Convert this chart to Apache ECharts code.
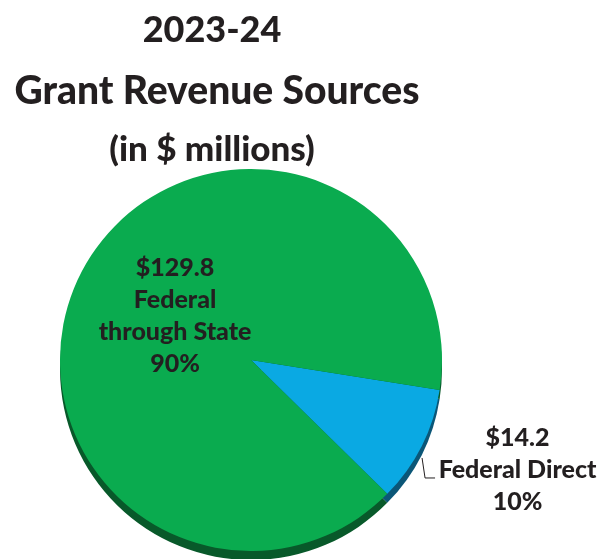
<!DOCTYPE html>
<html>
<head>
<meta charset="utf-8">
<script src="https://cdn.jsdelivr.net/npm/echarts@6/dist/echarts.min.js"></script>
<style>
  html, body { margin: 0; padding: 0; background: #ffffff; }
  #chart { width: 597px; height: 559px; }
</style>
</head>
<body>
<div id="chart"></div>
<script>
// Grant revenue by source, in $ millions
const categories = ['Federal Direct', 'Federal through State'];
const labelNames = ['Federal Direct', 'Federal\nthrough State'];
const amounts = [14.2, 129.8];

const titleLines = ['2023-24', 'Grant Revenue Sources', '(in $ millions)'];

const faceColors = ['#0aa9e3', '#0aab4f'];
const edgeColors = ['#0b5677', '#08592a'];

const FONT = 'Lato, "Open Sans", sans-serif';
const WEIGHT = 900;
const INK = '#231f20';

const chart = echarts.init(document.getElementById('chart'), null, { renderer: 'canvas' });

const pieData = categories.map((name, i) => ({ name, value: amounts[i] }));

function labelText(p) {
  return '$' + amounts[p.dataIndex].toFixed(1) + '\n' + labelNames[p.dataIndex] + '\n' + Math.round(p.percent) + '%';
}

chart.setOption({
  animation: false,
  backgroundColor: '#ffffff',
  title: [
    { text: titleLines[0], left: 207, top: 7, textAlign: 'center',
      textStyle: { fontFamily: FONT, fontWeight: WEIGHT, fontSize: 36, color: INK } },
    { text: titleLines[1], left: 212, top: 67, textAlign: 'center',
      textStyle: { fontFamily: FONT, fontWeight: WEIGHT, fontSize: 39, color: INK } },
    { text: titleLines[2], left: 207, top: 127, textAlign: 'center',
      textStyle: { fontFamily: FONT, fontWeight: WEIGHT, fontSize: 35, color: INK } }
  ],
  series: [
    {
      // side wall of the disc
      type: 'pie',
      silent: true,
      center: [251, 369],
      radius: 191,
      startAngle: -9,
      label: { show: false },
      labelLine: { show: false },
      itemStyle: { color: (p) => edgeColors[p.dataIndex] },
      data: pieData
    },
    {
      type: 'pie',
      center: [251, 360],
      radius: 191,
      startAngle: -9,
      itemStyle: { color: (p) => faceColors[p.dataIndex] },
      label: {
        show: true,
        formatter: labelText,
        fontFamily: FONT,
        fontWeight: WEIGHT,
        fontSize: 25,
        lineHeight: 32,
        color: INK,
        align: 'center',
        overflow: 'none'
      },
      labelLine: { show: true, lineStyle: { color: INK, width: 1 }, length: 12, length2: 10 },
      data: pieData.map((d, i) => Object.assign({}, d, {
        label: { position: i === 0 ? 'outside' : 'inside' },
        labelLine: { show: i === 0 }
      })),
      labelLayout: function (params) {
        if (params.dataIndex !== 0) return { dx: 12 };
        if (!params.labelLinePoints) return {};
        const p0 = params.labelLinePoints[0];
        const start = [p0[0] + 0.5, p0[1] + 12];
        const bend = [start[0] + 3, start[1] + 20];
        const end = [bend[0] + 10, bend[1]];
        return {
          x: p0[0] + 96,
          y: p0[1] + 24,
          align: 'center',
          verticalAlign: 'middle',
          labelLinePoints: [start, bend, end]
        };
      }
    }
  ]
});
</script>
</body>
</html>
